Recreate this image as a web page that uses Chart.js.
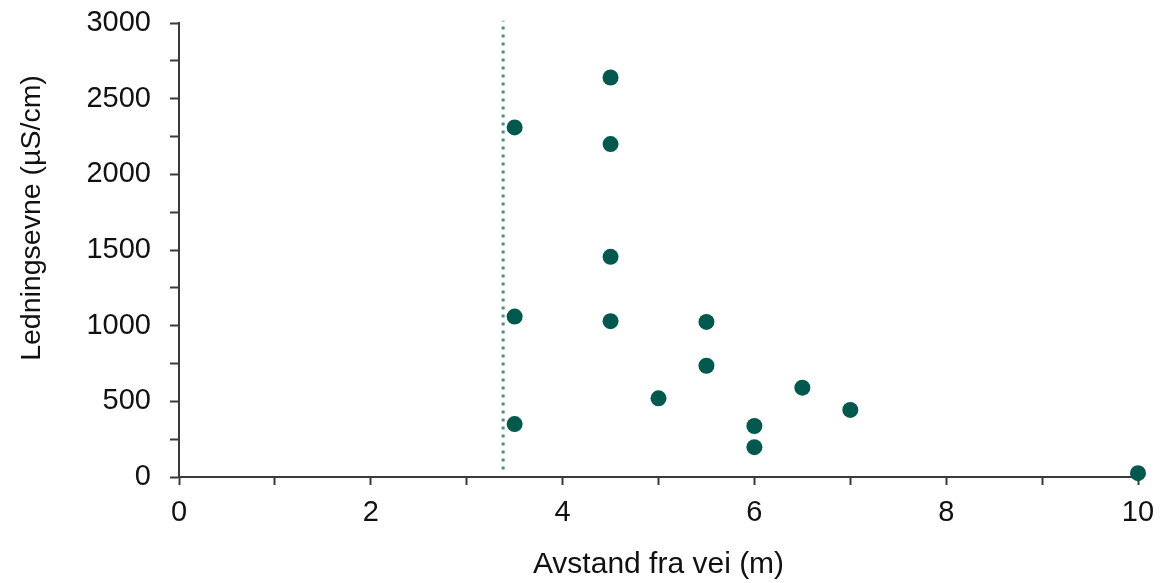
<!DOCTYPE html>
<html>
<head>
<meta charset="utf-8">
<script src="https://cdn.jsdelivr.net/npm/chart.js@4/dist/chart.umd.min.js"></script>
<style>
  html, body { margin: 0; padding: 0; background: #fff; }
  #wrap { width: 1173px; height: 583px; }
</style>
</head>
<body>
<div id="wrap"><canvas id="chart"></canvas></div>
<script>
// distance from road (m) and conductivity (µS/cm)
const distance = [3.5, 3.5, 3.5, 4.5, 4.5, 4.5, 4.5, 5, 5.5, 5.5, 6, 6, 6.5, 7, 10];
const conductivity = [2310, 1060, 350, 2640, 2200, 1455, 1030, 520, 1025, 735, 337, 197, 590, 443, 25];

// dotted reference line
const refLineX = [3.38, 3.38];
const refLineY = [50, 3015];

const xTitle = 'Avstand fra vei (m)';
const yTitle = 'Ledningsevne (µS/cm)';

const font = "'Liberation Sans', Arial, sans-serif";
const axisColor = '#3a3a3a';

const points = distance.map((x, i) => ({ x: x, y: conductivity[i] }));
const refLine = refLineX.map((x, i) => ({ x: x, y: refLineY[i] }));

// y title is drawn by hand, a bit above the middle like the original
const yTitlePlugin = {
  id: 'yTitle',
  afterDraw(chart) {
    const ctx = chart.ctx;
    ctx.save();
    ctx.translate(32, 218);
    ctx.rotate(-Math.PI / 2);
    ctx.font = '28.5px ' + font;
    ctx.fillStyle = '#111';
    ctx.textAlign = 'center';
    ctx.textBaseline = 'middle';
    ctx.fillText(yTitle, 0, 0);
    ctx.restore();
  }
};

new Chart(document.getElementById('chart'), {
  type: 'scatter',
  data: {
    datasets: [
      {
        data: points,
        backgroundColor: '#00594c',
        borderWidth: 0,
        pointRadius: 8,
        pointHoverRadius: 8,
        clip: false,
        order: 1
      },
      {
        type: 'line',
        data: refLine,
        borderColor: '#4f8e84',
        borderWidth: 3,
        borderDash: [3, 5],
        pointRadius: 0,
        clip: false,
        order: 2
      }
    ]
  },
  options: {
    responsive: true,
    maintainAspectRatio: false,
    animation: false,
    layout: { padding: { top: 23, right: 35, left: 0, bottom: 0 } },
    plugins: {
      legend: { display: false },
      tooltip: { enabled: false }
    },
    scales: {
      x: {
        type: 'linear',
        min: 0,
        max: 10,
        afterFit(scale) {
          scale.height = 106;
          scale.paddingLeft = 0;
          scale.paddingRight = 0;
        },
        border: { color: axisColor, width: 2 },
        grid: {
          drawOnChartArea: false,
          drawTicks: true,
          tickLength: 8,
          tickWidth: 2,
          tickColor: axisColor
        },
        ticks: {
          stepSize: 1,
          autoSkip: false,
          maxRotation: 0,
          padding: 11,
          color: '#111',
          font: { family: font, size: 29 },
          callback: v => (v % 2 === 0 ? v : '')
        },
        title: {
          display: true,
          text: xTitle,
          color: '#111',
          font: { family: font, size: 30 },
          padding: { top: 0, bottom: 0 }
        }
      },
      y: {
        type: 'linear',
        min: 0,
        max: 3000,
        afterFit(scale) {
          scale.width = 179;
          scale.paddingTop = 0;
          scale.paddingBottom = 0;
        },
        border: { color: axisColor, width: 2 },
        grid: {
          drawOnChartArea: false,
          drawTicks: true,
          tickLength: 9,
          tickWidth: 2,
          tickColor: axisColor
        },
        ticks: {
          stepSize: 250,
          autoSkip: false,
          padding: 19,
          color: '#111',
          font: { family: font, size: 29 },
          callback: v => (v % 500 === 0 ? v : '')
        }
      }
    }
  },
  plugins: [yTitlePlugin]
});
</script>
</body>
</html>
